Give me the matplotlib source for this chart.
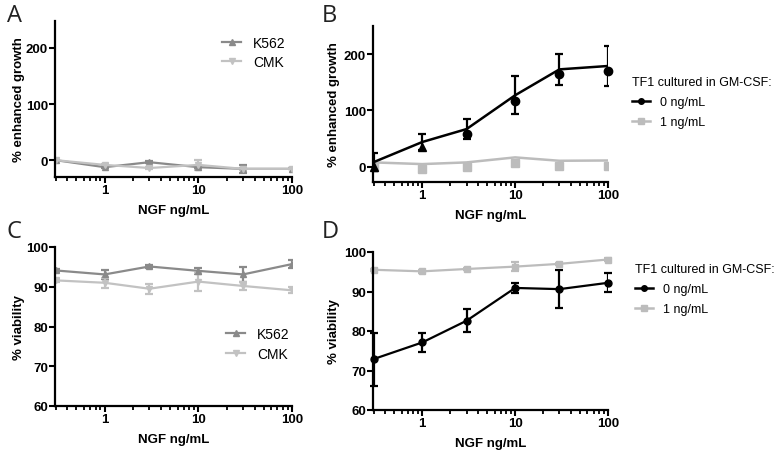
import matplotlib
matplotlib.use("Agg")
import matplotlib.pyplot as plt
from matplotlib.lines import Line2D
import numpy as np

# ---------------- data ----------------
ngf = [0.3, 1, 3, 10, 30, 100]

# Panel A: % enhanced growth
a_k562 = [0, -12.5, -3.6, -12.5, -15.5, -15.5]
a_k562_err = [0, 2, 2, 2, 7.5, 1]
a_cmk = [0, -8.4, -14, -8.4, -15.5, -15.5]
a_cmk_err = [0, 2, 2, 8.5, 2, 1]

# Panel B: TF1 % enhanced growth
b0_mean = [8.3, 44, 67, 127, 173, 179]
b0_err = [16, 15, 18, 34, 28, 36]
b0_points = [0, 35.5, 58.6, 117, 164, 170]
b1_mean = [7.8, 4.8, 7.8, 16.7, 10.7, 11.2]
b1_points = [0, -3.5, -1, 6, 0.7, 1.8]

# Panel C: % viability
c_k562 = [94.1, 93.1, 95.1, 94.0, 93.1, 95.7]
c_k562_err = [0.3, 1.05, 0.3, 0.8, 1.95, 1.1]
c_cmk = [91.6, 91.0, 89.5, 91.3, 90.2, 89.1]
c_cmk_err = [0.3, 1.2, 1.3, 2.25, 0.9, 0.75]

# Panel D: TF1 % viability
d0 = [72.9, 77.1, 82.6, 90.9, 90.6, 92.2]
d0_err = [6.7, 2.45, 2.95, 1.2, 4.9, 2.4]
d1 = [95.5, 95.1, 95.7, 96.3, 97.0, 98.1]
d1_err = [0.3, 0.3, 0.3, 1.05, 0.3, 0.3]

xlabel = "NGF ng/mL"
legend_title = "TF1 cultured in GM-CSF:"
cell_labels = ["K562", "CMK"]
gmcsf_labels = ["0 ng/mL", "1 ng/mL"]

# ---------------- style ----------------
W, H = 780, 456
fig = plt.figure(figsize=(W / 100, H / 100), dpi=100)

TICKFONT = dict(family="Liberation Sans", weight="bold", size=9.5)
DARK = "#8a8a8a"
LIGHT = "#c2c2c2"
TFGRAY = "#bcbcbc"


def px_axes(l, r, t, b):
    return fig.add_axes([l / W, 1 - b / H, (r - l) / W, (b - t) / H])


def style(ax, ylim, yticks, ylabel, ylabel_right_px):
    ax.set_xscale("log")
    ax.set_xlim(0.295, 100)
    ax.set_ylim(*ylim)
    ax.set_yticks(yticks)
    ax.set_xticks([1, 10, 100])
    ax.set_xticklabels(["1", "10", "100"])
    ax.set_xticks([v * d for d in (0.1, 1, 10) for v in range(2, 10) if v * d > 0.3], minor=True)
    ax.xaxis.set_minor_formatter(matplotlib.ticker.NullFormatter())
    for s in ("top", "right"):
        ax.spines[s].set_visible(False)
    for s in ("left", "bottom"):
        ax.spines[s].set_linewidth(1.6)
    ax.tick_params(which="major", direction="out", length=4, width=1.5, pad=1)
    ax.tick_params(which="minor", direction="out", length=3, width=1.3)
    ax.tick_params(axis="y", which="minor", length=0)
    for lab in ax.get_xticklabels() + ax.get_yticklabels():
        lab.set_fontfamily("Liberation Sans")
        lab.set_fontweight("bold")
        lab.set_fontsize(9.5)
    ax.set_xlabel(xlabel, fontdict=TICKFONT, labelpad=6)
    ax.set_ylabel(ylabel, fontdict=TICKFONT)
    pos = ax.get_position()
    ax.yaxis.set_label_coords((ylabel_right_px / W - pos.x0) / pos.width, 0.5)
    ax.patch.set_alpha(0)


def legend_at(ax, handles, labels, x, y, size, spacing, title=None):
    font = dict(family="Liberation Sans", size=size)
    leg = ax.legend(handles, labels, title=title, loc="upper left",
                    bbox_to_anchor=(x / W, 1 - y / H), bbox_transform=fig.transFigure,
                    frameon=False, borderpad=0, borderaxespad=0, handlelength=1.4,
                    handletextpad=0.85, labelspacing=spacing, prop=font,
                    title_fontproperties=font)
    leg._legend_box.align = "left"
    return leg


EB = dict(capsize=3, elinewidth=1.6, capthick=1.6, lw=1.6, markersize=5)

# ---- Panel A ----
axA = px_axes(55, 292, 22, 178)
axA.errorbar(ngf, a_k562, yerr=a_k562_err, color=DARK, marker="^", **EB)
axA.errorbar(ngf, a_cmk, yerr=a_cmk_err, color=LIGHT, marker="v", **EB)
style(axA, (-30, 248), [0, 100, 200], "% enhanced growth", 25)
hk = Line2D([], [], color=DARK, marker="^", lw=1.6, markersize=4)
hc = Line2D([], [], color=LIGHT, marker="v", lw=1.6, markersize=4)
legend_at(axA, [hk, hc], cell_labels, 222, 37, 10, 0.35)

# ---- Panel B ----
axB = px_axes(373, 608, 27, 183)
axB.errorbar(ngf, b0_mean, yerr=b0_err, color="black", marker="",
             capsize=3, elinewidth=1.6, capthick=1.6, lw=1.8, zorder=3)
axB.plot(ngf, b1_mean, color=TFGRAY, lw=1.8, zorder=2)
axB.plot(ngf, b1_points, ls="none", marker="s", color=TFGRAY, markersize=5.5, zorder=2)
pt_markers = ["^", "^", "o", "o", "o", "o"]
for xv, yv, mk in zip(ngf, b0_points, pt_markers):
    axB.plot([xv], [yv], ls="none", marker=mk, color="black", markersize=6, zorder=4, clip_on=False)
style(axB, (-27, 250), [0, 100, 200], "% enhanced growth", 340)
h0 = Line2D([], [], color="black", marker="o", lw=1.8, markersize=4)
h1 = Line2D([], [], color=TFGRAY, marker="s", lw=1.8, markersize=4)
legend_at(axB, [h0, h1], gmcsf_labels, 632, 77, 9, 0.65, title=legend_title)

# ---- Panel C ----
axC = px_axes(55, 292, 248, 407)
axC.errorbar(ngf, c_k562, yerr=c_k562_err, color=DARK, marker="^", **EB)
axC.errorbar(ngf, c_cmk, yerr=c_cmk_err, color=LIGHT, marker="v", **EB)
style(axC, (60, 100), [60, 70, 80, 90, 100], "% viability", 25)
legend_at(axC, [hk, hc], cell_labels, 226, 328, 10, 0.45)

# ---- Panel D ----
axD = px_axes(373, 608, 253, 411)
axD.errorbar(ngf, d1, yerr=d1_err, color=TFGRAY, marker="s", **EB)
axD.errorbar(ngf, d0, yerr=d0_err, color="black", marker="o", **EB)
for ln in axD.lines:
    ln.set_clip_on(False)
style(axD, (60, 100), [60, 70, 80, 90, 100], "% viability", 340)
legend_at(axD, [h0, h1], gmcsf_labels, 635, 264, 9, 0.65, title=legend_title)

# ---- panel letters ----
for txt, x, y in [("A", 7, 4), ("B", 322, 4), ("C", 7, 220), ("D", 322, 220)]:
    fig.text(x / W, 1 - y / H, txt, family="Open Sans", fontsize=17, va="top", ha="left",
             color="#222222")

fig.savefig("out.png", dpi=100)
